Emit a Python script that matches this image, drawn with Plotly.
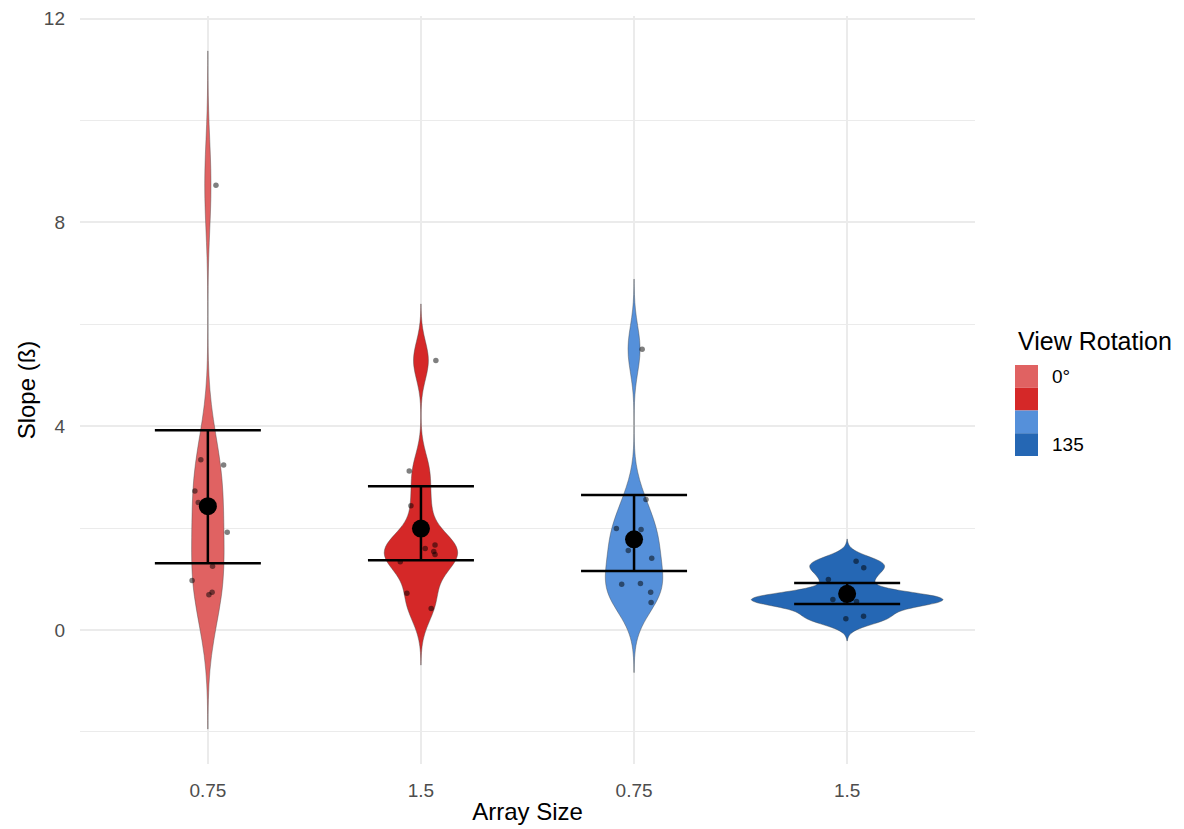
import numpy as np
import plotly.graph_objects as go

# ---------------- data ----------------
categories = ["0.75", "1.5", "0.75", "1.5"]
legend_labels = ["0°", "", "", "135"]
colors = ["#E06262", "#D52828", "#5590DA", "#2567B4"]

g1_y = [3.34, 3.24, 2.73, 2.50, 1.92, 1.25, 0.97, 0.69, 0.74, 8.73]
g1_jit = [-0.033, 0.074, -0.061, -0.045, 0.091, 0.022, -0.074, 0.005, 0.020, 0.038]
g2_y = [3.12, 2.44, 1.60, 1.67, 1.54, 1.48, 1.34, 0.72, 0.42, 5.29]
g2_jit = [-0.055, -0.047, 0.020, 0.066, 0.060, 0.066, -0.097, -0.066, 0.048, 0.070]
g3_y = [2.56, 1.99, 1.97, 1.56, 1.41, 0.90, 0.91, 0.74, 0.54, 5.51]
g3_jit = [0.056, -0.083, 0.033, -0.027, 0.083, -0.058, 0.030, 0.078, 0.080, 0.038]
g4_y = [1.35, 1.22, 0.99, 0.60, 0.56, 0.22, 0.27, 0.58, 0.62, 0.65]
g4_jit = [0.042, 0.078, -0.088, -0.067, 0.044, -0.006, 0.077, -0.009, 0.014, -0.023]

means = [2.43, 1.99, 1.78, 0.71]
lower = [1.31, 1.37, 1.16, 0.51]
upper = [3.92, 2.82, 2.65, 0.92]

groups_y = [g1_y, g2_y, g3_y, g4_y]
groups_jit = [g1_jit, g2_jit, g3_jit, g4_jit]

# ---------------- helpers ----------------
W, H = 1184, 829
ML, MR, MT, MB = 80, 209, 16, 65
PW, PH = W - ML - MR, H - MT - MB


def px(xp):
    return (xp - ML) / PW


def py(yp):
    return (H - MB - yp) / PH


def nrd0(x):
    x = np.asarray(x, float)
    hi = np.std(x, ddof=1)
    q75, q25 = np.percentile(x, [75, 25])
    lo = min(hi, (q75 - q25) / 1.34)
    if lo <= 0:
        lo = hi
    return 0.9 * lo * len(x) ** -0.2


def kde_max(x, bw, lo, hi):
    x = np.asarray(x, float)
    grid = np.linspace(lo, hi, 1024)
    d = np.exp(-0.5 * ((grid[:, None] - x[None, :]) / bw) ** 2).sum(axis=1)
    d /= len(x) * bw * np.sqrt(2 * np.pi)
    return d.max()


FONT = "Liberation Sans, Arial, sans-serif"

# ggplot-like "area" scaling: widest density gets 0.9 width
bws = [nrd0(ys) for ys in groups_y]
spans = [[min(ys) - 3 * bw, max(ys) + 3 * bw] for ys, bw in zip(groups_y, bws)]
peaks = [kde_max(ys, bw, s[0], s[1]) for ys, bw, s in zip(groups_y, bws, spans)]
gmax = max(peaks)

fig = go.Figure()

for i, (ys, col) in enumerate(zip(groups_y, colors)):
    fig.add_trace(go.Violin(
        x=[i] * len(ys), y=ys,
        width=0.9 * peaks[i] / gmax, scalemode="width", scalegroup="g%d" % i,
        spanmode="manual", span=spans[i],
        bandwidth=bws[i], fillcolor=col,
        line=dict(color="rgba(70,70,70,0.7)", width=0.6),
        points=False, box_visible=False, meanline_visible=False,
        opacity=1, showlegend=False, hoverinfo="skip",
    ))

for i, (ys, jit) in enumerate(zip(groups_y, groups_jit)):
    fig.add_trace(go.Scatter(
        x=[i + j for j in jit], y=ys, mode="markers",
        marker=dict(size=5.5, color="rgba(0,0,0,0.5)", line=dict(width=0)),
        showlegend=False, hoverinfo="skip",
    ))

means_a = np.array(means)
fig.add_trace(go.Scatter(
    x=list(range(len(means))), y=means, mode="markers",
    marker=dict(size=18, color="black"),
    error_y=dict(type="data", symmetric=False,
                 array=list(np.array(upper) - means_a),
                 arrayminus=list(means_a - np.array(lower)),
                 width=53, thickness=2.5, color="black"),
    showlegend=False, hoverinfo="skip",
))

# legend drawn manually (contiguous keys as in reference)
shapes = []
key_top = 365
key_h = 22.75
for k, col in enumerate(colors):
    shapes.append(dict(type="rect", xref="paper", yref="paper",
                       x0=px(1015), x1=px(1038),
                       y0=py(key_top + (k + 1) * key_h), y1=py(key_top + k * key_h),
                       fillcolor=col, line=dict(width=0), layer="above"))

annotations = [dict(text="View Rotation", xref="paper", yref="paper",
                    x=px(1016), y=py(341), xanchor="left", yanchor="middle",
                    showarrow=False, font=dict(family=FONT, size=25, color="black"))]
for k, lab in enumerate(legend_labels):
    if lab:
        annotations.append(dict(text=lab, xref="paper", yref="paper",
                                x=px(1050), y=py(key_top + (k + 0.5) * key_h),
                                xanchor="left", yanchor="middle", showarrow=False,
                                font=dict(family=FONT, size=19, color="black")))

fig.update_layout(
    width=W, height=H,
    margin=dict(l=ML, r=MR, t=MT, b=MB),
    plot_bgcolor="white", paper_bgcolor="white",
    violinmode="overlay",
    font=dict(family=FONT),
    shapes=shapes, annotations=annotations,
    xaxis=dict(
        range=[-0.6, 3.6], tickmode="array", tickvals=list(range(len(categories))),
        ticktext=categories, showgrid=True, gridcolor="#EBEBEB", gridwidth=2,
        zeroline=False, showline=False, ticks="", ticklabelstandoff=13,
        automargin=False,
        tickfont=dict(family=FONT, size=19, color="#4D4D4D"),
        title=dict(text="Array Size", font=dict(family=FONT, size=24, color="black"), standoff=3),
    ),
    yaxis=dict(
        range=[-2.63, 12.05], tickmode="array", tickvals=[0, 4, 8, 12],
        showgrid=True, gridcolor="#EBEBEB", gridwidth=2,
        minor=dict(tickvals=[-2, 2, 6, 10], showgrid=True, gridcolor="#EBEBEB", gridwidth=1),
        zeroline=False, showline=False, ticks="", ticklabelstandoff=14,
        automargin=False,
        tickfont=dict(family=FONT, size=19, color="#4D4D4D"),
        title=dict(text="Slope (ß)", font=dict(family=FONT, size=24, color="black"), standoff=1),
    ),
)

fig.write_html("out.html")
